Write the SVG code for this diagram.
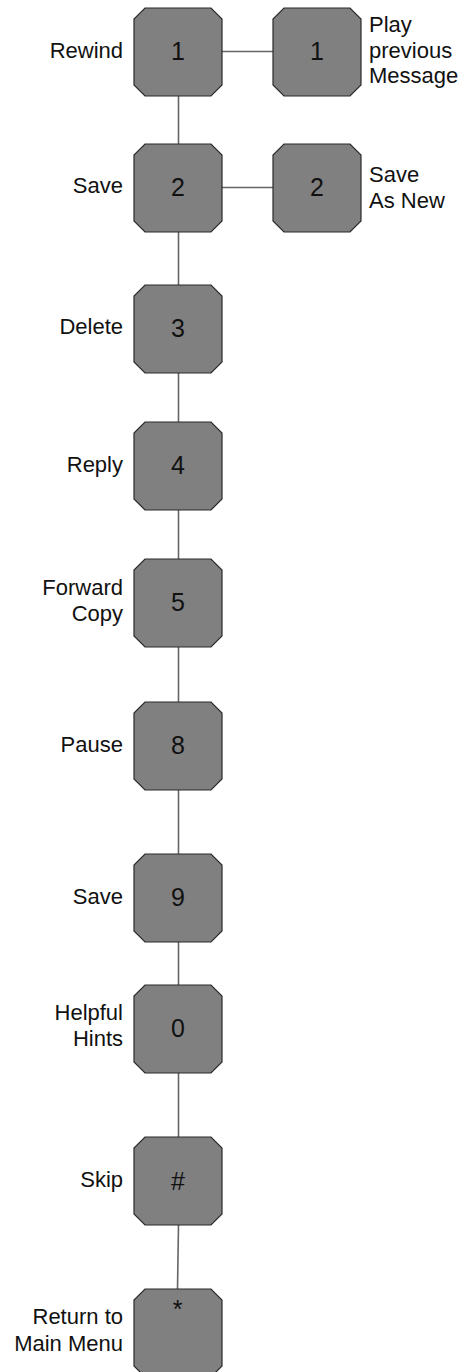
<svg xmlns="http://www.w3.org/2000/svg" width="465" height="1372" viewBox="0 0 465 1372">
<style>
.k{fill:#808080;stroke:#2a2a2a;stroke-width:1.2}
.n{font-family:"Liberation Sans",Arial,sans-serif;font-size:25px;fill:#111;text-anchor:middle}
.l{font-family:"Liberation Sans",Arial,sans-serif;font-size:22px;fill:#111;text-anchor:end}
.r{font-family:"Liberation Sans",Arial,sans-serif;font-size:22px;fill:#111;text-anchor:start}
.c{stroke:#666;stroke-width:1.6;fill:none}
</style>
<defs>
<path id="key" d="M11,0 H77 L88,11 V77 L77,88 H11 L0,77 V11 Z"/>
</defs>
<g id="connectors">
<line class="c" x1="178.5" y1="96" x2="178.5" y2="144"/>
<line class="c" x1="178.5" y1="232" x2="178.5" y2="285"/>
<line class="c" x1="178.5" y1="373" x2="178.5" y2="422"/>
<line class="c" x1="178.5" y1="510" x2="178.5" y2="559"/>
<line class="c" x1="178.5" y1="647" x2="178.5" y2="702"/>
<line class="c" x1="178.5" y1="790" x2="178.5" y2="854"/>
<line class="c" x1="178.5" y1="942" x2="178.5" y2="985"/>
<line class="c" x1="178.5" y1="1073" x2="178.5" y2="1137"/>
<line class="c" x1="178.5" y1="1225" x2="177.5" y2="1289"/>
<line class="c" x1="222" y1="51.5" x2="273" y2="51.5"/>
<line class="c" x1="222" y1="187.5" x2="273" y2="187.5"/>
</g>
<g id="n1"><use href="#key" class="k" x="134" y="8"/><text class="n" x="178" y="60">1</text><text class="l" x="123" y="58">Rewind</text></g>
<g id="n1b"><use href="#key" class="k" x="273" y="8"/><text class="n" x="317" y="60">1</text><text class="r" x="369" y="32">Play</text><text class="r" x="369" y="58">previous</text><text class="r" x="369" y="83">Message</text></g>
<g id="n2"><use href="#key" class="k" x="134" y="144"/><text class="n" x="178" y="196">2</text><text class="l" x="123" y="193">Save</text></g>
<g id="n2b"><use href="#key" class="k" x="273" y="144"/><text class="n" x="317" y="196">2</text><text class="r" x="369" y="182">Save</text><text class="r" x="369" y="208">As New</text></g>
<g id="n3"><use href="#key" class="k" x="134" y="285"/><text class="n" x="178" y="337">3</text><text class="l" x="123" y="334">Delete</text></g>
<g id="n4"><use href="#key" class="k" x="134" y="422"/><text class="n" x="178" y="474">4</text><text class="l" x="123" y="472">Reply</text></g>
<g id="n5"><use href="#key" class="k" x="134" y="559"/><text class="n" x="178" y="611">5</text><text class="l" x="123" y="595">Forward</text><text class="l" x="123" y="621">Copy</text></g>
<g id="n8"><use href="#key" class="k" x="134" y="702"/><text class="n" x="178" y="754">8</text><text class="l" x="123" y="752">Pause</text></g>
<g id="n9"><use href="#key" class="k" x="134" y="854"/><text class="n" x="178" y="906">9</text><text class="l" x="123" y="904">Save</text></g>
<g id="n0"><use href="#key" class="k" x="134" y="985"/><text class="n" x="178" y="1037">0</text><text class="l" x="123" y="1020">Helpful</text><text class="l" x="123" y="1046">Hints</text></g>
<g id="nhash"><use href="#key" class="k" x="134" y="1137"/><text class="n" x="178" y="1190">#</text><text class="l" x="123" y="1187">Skip</text></g>
<g id="nstar"><use href="#key" class="k" x="134" y="1289"/><text class="n" x="177.5" y="1318">*</text><text class="l" x="123" y="1324">Return to</text><text class="l" x="123" y="1351">Main Menu</text></g>
</svg>
